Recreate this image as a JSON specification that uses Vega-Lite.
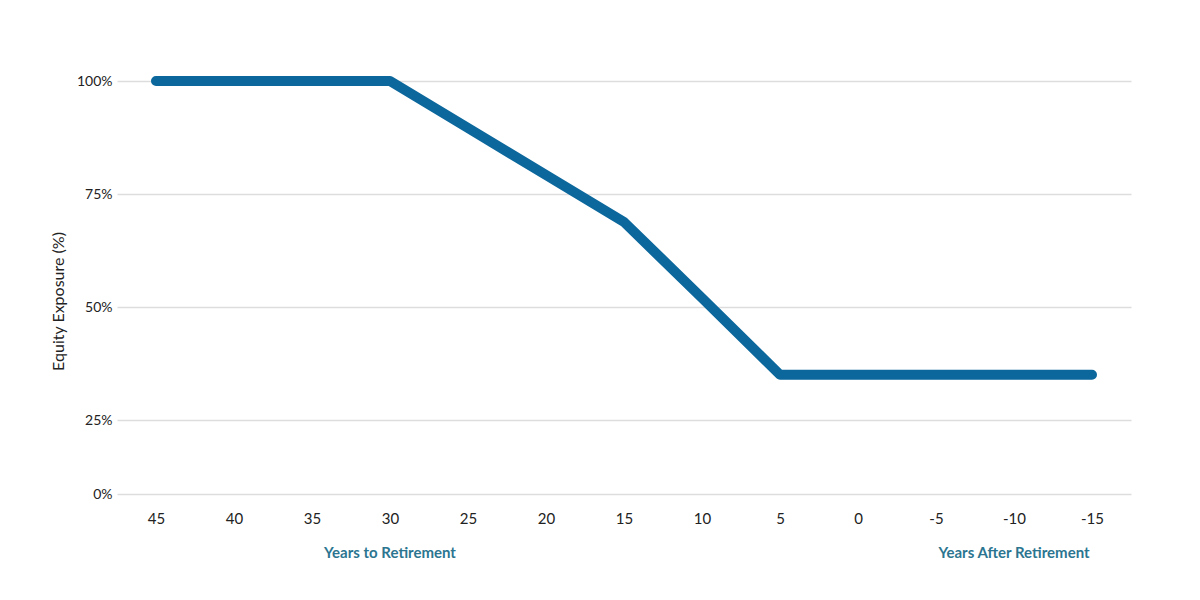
{
  "$schema": "https://vega.github.io/schema/vega-lite/v6.json",
  "autosize": {"type": "none"},
  "width": 1014,
  "height": 413,
  "padding": {"left": 117, "top": 81, "right": 69, "bottom": 106},
  "background": "white",
  "config": {
    "view": {"stroke": null},
    "font": "Lato"
  },
  "data": {
    "values": [
      {"years": "45", "equity": 100},
      {"years": "40", "equity": 100},
      {"years": "35", "equity": 100},
      {"years": "30", "equity": 100},
      {"years": "25", "equity": 89.6},
      {"years": "20", "equity": 79.2},
      {"years": "15", "equity": 68.8},
      {"years": "10", "equity": 52},
      {"years": "5", "equity": 35},
      {"years": "0", "equity": 35},
      {"years": "-5", "equity": 35},
      {"years": "-10", "equity": 35},
      {"years": "-15", "equity": 35}
    ]
  },
  "layer": [
    {
      "mark": {"type": "line", "color": "#0b679c", "strokeWidth": 10, "strokeCap": "round", "strokeJoin": "round"},
      "encoding": {
        "x": {
          "field": "years", "type": "ordinal", "sort": null,
          "scale": {"paddingInner": 0, "paddingOuter": 0},
          "axis": {
            "title": null, "labelAngle": 0, "domain": false, "ticks": false,
            "labelFont": "Lato", "labelFontSize": 15, "labelColor": "#222222", "labelPadding": 17
          }
        },
        "y": {
          "field": "equity", "type": "quantitative",
          "scale": {"domain": [0, 25, 100], "range": [413, 339, 0], "zero": false, "nice": false},
          "axis": {
            "values": [0, 25, 50, 75, 100],
            "labelExpr": "datum.value + '%'",
            "title": "Equity Exposure (%)",
            "titleFont": "Lato", "titleFontSize": 16, "titleFontWeight": "normal", "titleColor": "#222222",
            "titlePadding": 10, "titleY": 220,
            "domain": false, "ticks": false,
            "labelFont": "Lato", "labelFontSize": 14, "labelColor": "#222222", "labelPadding": 5,
            "grid": true, "gridColor": "#dddddd", "gridWidth": 1.5
          }
        }
      }
    },
    {
      "data": {
        "values": [
          {"years": "30", "label": "Years to Retirement"},
          {"years": "-10", "label": "Years After Retirement"}
        ]
      },
      "mark": {"type": "text", "font": "Lato", "fontSize": 15, "fontWeight": "bold", "color": "#2b7590", "baseline": "middle", "dy": 59, "clip": false},
      "encoding": {
        "x": {"field": "years", "type": "ordinal", "sort": null},
        "y": {"datum": 0, "type": "quantitative"},
        "text": {"field": "label"}
      }
    }
  ]
}
